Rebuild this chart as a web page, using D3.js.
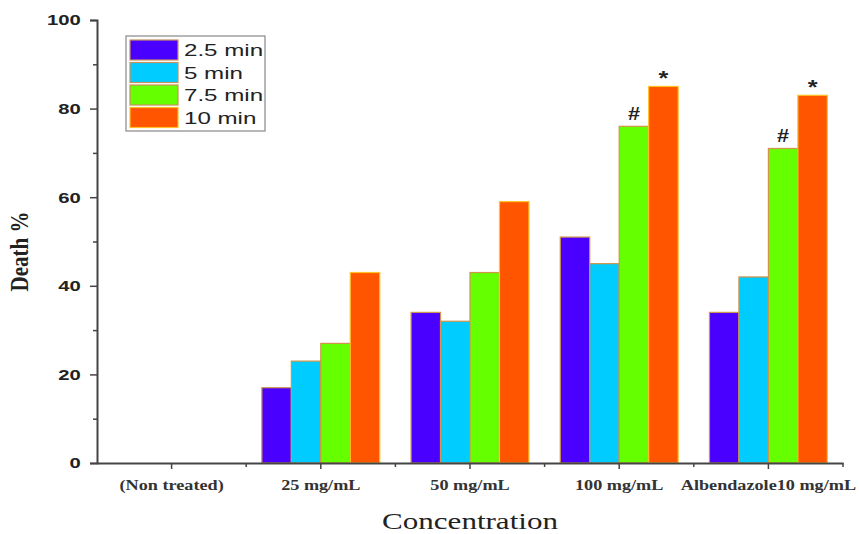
<!DOCTYPE html>
<html>
<head>
<meta charset="utf-8">
<script src="https://cdn.jsdelivr.net/npm/d3@7"></script>
<style>
  body { margin: 0; background: #fff; }
</style>
</head>
<body>
<div id="chart"></div>
<script>
// data
var categories = ["(Non treated)", "25 mg/mL", "50 mg/mL", "100 mg/mL", "Albendazole10 mg/mL"];
var seriesNames = ["2.5 min", "5 min", "7.5 min", "10 min"];
var seriesColors = ["#4a00ff", "#00ccff", "#66ff00", "#ff5500"];
var v25 = [0, 17, 34, 51, 34];
var v5 = [0, 23, 32, 45, 42];
var v75 = [0, 27, 43, 76, 71];
var v10 = [0, 43, 59, 85, 83];
var yTicks = [0, 20, 40, 60, 80, 100];
// significance marks: [category, series index, symbol]
var marks = [["100 mg/mL", 2, "#"], ["100 mg/mL", 3, "*"],
             ["Albendazole10 mg/mL", 2, "#"], ["Albendazole10 mg/mL", 3, "*"]];

var allSeries = [v25, v5, v75, v10];

// the original picture is stretched sideways, so text gets widened too
var stretch = 1.35;

var margin = { top: 20, right: 16, bottom: 71, left: 97 },
    width = 859 - margin.left - margin.right,
    height = 534 - margin.top - margin.bottom;

var svg = d3.select("#chart")
    .append("svg")
    .attr("width", 859)
    .attr("height", 534)
    .append("g")
    .attr("transform", "translate(" + margin.left + "," + margin.top + ")");

var x = d3.scaleBand()
    .domain(categories)
    .range([0, width])
    .paddingInner(0)
    .paddingOuter(0);

var xSub = d3.scaleBand()
    .domain(d3.range(seriesNames.length))
    .range([x.bandwidth() * 0.105, x.bandwidth() * 0.895]);

var y = d3.scaleLinear()
    .domain([0, 100])
    .range([height, 0]);

// bars
var rows = [];
categories.forEach(function (c, i) {
    allSeries.forEach(function (s, j) {
        rows.push({ cat: c, s: j, value: s[i] });
    });
});

svg.selectAll("bars")
    .data(rows.filter(d => d.value > 0))
    .enter()
    .append("rect")
    .attr("x", d => x(d.cat) + xSub(d.s))
    .attr("width", xSub.bandwidth())
    .attr("y", d => y(d.value))
    .attr("height", d => y(0) - y(d.value))
    .style("fill", d => seriesColors[d.s])
    .attr("stroke", d => d.s == 3 ? "#ffc125" : "#d0944a")
    .attr("stroke-width", 1.2);

// marks above bars
svg.selectAll("marks")
    .data(marks)
    .enter()
    .append("text")
    .attr("transform", function (d) {
        var i = categories.indexOf(d[0]);
        var cx = x(d[0]) + xSub(d[1]) + xSub.bandwidth() / 2;
        var cy = y(allSeries[d[1]][i]) - (d[2] == "*" ? 1 : 6);
        return "translate(" + cx + "," + cy + ") scale(1.2,1)";
    })
    .attr("text-anchor", "middle")
    .style("font-family", "Liberation Sans, Arial, sans-serif")
    .style("font-weight", "bold")
    .style("font-size", d => d[2] == "*" ? "21px" : "18px")
    .style("fill", "#222")
    .text(d => d[2]);

// y axis
var yAxis = svg.append("g")
    .call(d3.axisLeft(y).tickValues(yTicks).tickSize(7).tickPadding(5));
yAxis.select(".domain").attr("stroke", "#444").attr("stroke-width", 2);
yAxis.selectAll(".tick line").attr("stroke", "#444").attr("stroke-width", 1.5);
yAxis.selectAll(".tick text")
    .attr("transform", "scale(" + stretch + ",1)")
    .style("font-family", "Liberation Sans, Arial, sans-serif")
    .style("font-weight", "bold")
    .style("font-size", "15px")
    .style("fill", "#222");

svg.append("g")
    .call(d3.axisLeft(y).tickValues([10, 30, 50, 70, 90]).tickSize(4).tickFormat(""))
    .call(g => g.select(".domain").remove())
    .selectAll(".tick line").attr("stroke", "#444").attr("stroke-width", 1.5);

// x axis
var xAxis = svg.append("g")
    .attr("transform", "translate(0," + height + ")")
    .call(d3.axisBottom(x).tickSize(6).tickPadding(11).tickSizeOuter(0));
xAxis.select(".domain").attr("stroke", "#444").attr("stroke-width", 2);
xAxis.selectAll(".tick line").attr("stroke", "#444").attr("stroke-width", 1.5);
xAxis.selectAll(".tick text")
    .attr("transform", "scale(1.3,1)")
    .style("font-family", "Liberation Serif, Times New Roman, serif")
    .style("font-weight", "bold")
    .style("font-size", "14px")
    .style("fill", "#333");

// minor x ticks at group edges
svg.selectAll("minorX")
    .data(categories.slice(1).concat(["end"]))
    .enter()
    .append("line")
    .attr("x1", d => d == "end" ? width : x(d))
    .attr("x2", d => d == "end" ? width : x(d))
    .attr("y1", height)
    .attr("y2", height + 4)
    .attr("stroke", "#444")
    .attr("stroke-width", 1.5);

// axis labels
svg.append("text")
    .attr("transform", "translate(-69," + (y(50) + 10) + ") scale(1.2,1) rotate(-90)")
    .attr("text-anchor", "middle")
    .style("font-family", "Liberation Serif, Times New Roman, serif")
    .style("font-weight", "bold")
    .style("font-size", "21px")
    .style("fill", "#222")
    .text("Death %");

svg.append("text")
    .attr("transform", "translate(" + (x("50 mg/mL") + x.bandwidth() * 0.5) + "," + (height + 66) + ") scale(1.35,1)")
    .attr("text-anchor", "middle")
    .style("font-family", "Liberation Serif, Times New Roman, serif")
    .style("font-size", "23px")
    .style("fill", "#222")
    .text("Concentration");

// legend
var legend = svg.append("g")
    .attr("transform", "translate(29,16)");

legend.append("rect")
    .attr("width", 139)
    .attr("height", 95)
    .style("fill", "#fff")
    .attr("stroke", "#888")
    .attr("stroke-width", 1.2);

var items = legend.selectAll("items")
    .data(seriesNames)
    .enter()
    .append("g")
    .attr("transform", (d, i) => "translate(4," + (4 + i * 22.5) + ")");

items.append("rect")
    .attr("width", 48)
    .attr("height", 20)
    .style("fill", (d, i) => seriesColors[i])
    .attr("stroke", (d, i) => i == 3 ? "#ffc125" : "#c8905a")
    .attr("stroke-width", 1.2);

items.append("text")
    .attr("transform", "translate(54,10) scale(1.42,1)")
    .attr("dy", "0.36em")
    .style("font-family", "Liberation Sans, Arial, sans-serif")
    .style("font-size", "17px")
    .style("fill", "#222")
    .text(d => d);
</script>
</body>
</html>
